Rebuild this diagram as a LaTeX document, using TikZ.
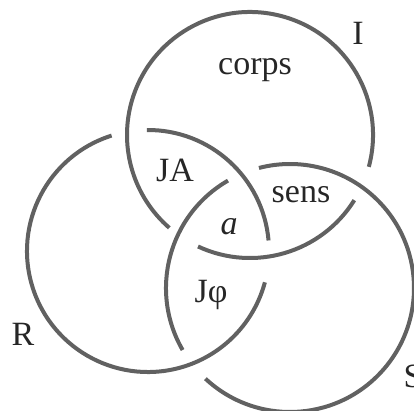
\documentclass[tikz,border=0pt]{standalone}
\usepackage{fontspec}
\setmainfont{Liberation Serif}
\begin{document}
\begin{tikzpicture}[x=1pt,y=1pt,
  ring/.style={draw=black!62, line width=4pt},
  lab/.style={anchor=base, inner sep=0pt, font=\fontsize{34}{40}\selectfont, text=black!85}]
\useasboundingbox (0,0) rectangle (414,-411);
\coordinate (cI) at (250,-135);
\coordinate (cR) at (148,-251);
\coordinate (cS) at (290,-288);
% I ring
\draw[ring] ([shift={(-115:123)}]cI) arc[start angle=-115, end angle=-32, radius=123];
\draw[ring] ([shift={(-15:123)}]cI) arc[start angle=-15, end angle=229, radius=123];
% R ring
\draw[ring] ([shift={(107.5:121)}]cR) arc[start angle=107.5, end angle=345, radius=121];
\draw[ring] ([shift={(5:121)}]cR) arc[start angle=5, end angle=90.5, radius=121];
% S ring
\draw[ring] ([shift={(227:124)}]cS) arc[start angle=227, end angle=464.5, radius=124];
\draw[ring] ([shift={(120:124)}]cS) arc[start angle=120, end angle=210, radius=124];
% labels
\node[lab] (lI) at (358,-45) {I};
\node[lab] (lcorps) at (255,-75) {corps};
\node[lab] (lJA) at (175,-182) {JA};
\node[lab] (lsens) at (301,-203) {sens};
\node[lab] (la) at (229,-235) {\itshape a};
\node[lab] (lJphi) at (211,-302) {Jφ};
\node[lab] (lR) at (23,-345) {R};
\node[lab] (lS) at (413,-387) {S};
\end{tikzpicture}
\end{document}
